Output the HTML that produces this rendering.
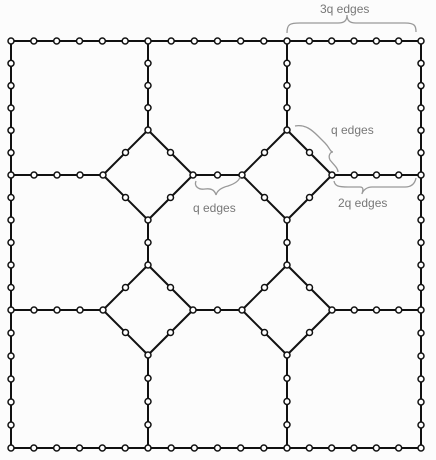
<!DOCTYPE html>
<html><head><meta charset="utf-8"><style>
html,body{margin:0;padding:0;background:#fff;}
svg{display:block;}
text{font-family:"Liberation Sans",sans-serif;font-size:12px;fill:#777;}
</style></head><body>
<svg id="g" width="436" height="460" viewBox="0 0 436 460">
<rect width="436" height="460" fill="#fcfcfc"/>
<g id="edges" stroke="#111" stroke-width="2" fill="none"></g>
<g id="nodes" fill="#fff" stroke="#111" stroke-width="1.5"></g>
<g fill="none" stroke="#999" stroke-width="1.3">
<path d="M287,33 C287,24 290,23 300,23 L338,23 C345,23 347,20 347,15 C347,20 349,23 356,23 L405,23 C415,23 416,26 416,32"/>
<path d="M295,126 C305,124 312,130 318,136 L325,143 C330,148 330,152 333,152 C330,152 328,156 330,160 C334,165 338,168 338,172"/>
<path d="M196,181 C194,186 198,190 205,189 C212,188 215,191 216,195 C217,191 220,188 228,186 C234,184 239,181 240,177"/>
<path d="M334,181 C335,186 338,187 348,187 L360,187 C365,187 362,193 362,194 C363,190 367,187 372,187 L405,187 C412,187 415,183 416,178"/>
</g>
<text x="320" y="13">3q edges</text>
<text x="331" y="134">q edges</text>
<text x="193" y="212">q edges</text>
<text x="338" y="207">2q edges</text>
</svg>
<script>
const cols=[11,148,287,421];
const rows=[41,175,310,448];
const dh=45;
const segs=[];
function add(x1,y1,x2,y2,n,name){segs.push([x1,y1,x2,y2,n,name]);}
for(let i=0;i<3;i++){
  add(cols[i],rows[0],cols[i+1],rows[0],6,'top-edge');
  add(cols[i],rows[3],cols[i+1],rows[3],6,'bottom-edge');
  add(cols[0],rows[i],cols[0],rows[i+1],6,'left-edge');
  add(cols[3],rows[i],cols[3],rows[i+1],6,'right-edge');
}
[rows[1],rows[2]].forEach(y=>{
  add(cols[0],y,cols[1]-dh,y,4,'inner-horizontal');
  add(cols[1]+dh,y,cols[2]-dh,y,2,'inner-horizontal');
  add(cols[2]+dh,y,cols[3],y,4,'inner-horizontal');
});
[cols[1],cols[2]].forEach(x=>{
  add(x,rows[0],x,rows[1]-dh,4,'inner-vertical');
  add(x,rows[1]+dh,x,rows[2]-dh,2,'inner-vertical');
  add(x,rows[2]+dh,x,rows[3],4,'inner-vertical');
});
[rows[1],rows[2]].forEach(cy=>[cols[1],cols[2]].forEach(cx=>{
  add(cx,cy-dh,cx+dh,cy,2,'diamond-side');
  add(cx+dh,cy,cx,cy+dh,2,'diamond-side');
  add(cx,cy+dh,cx-dh,cy,2,'diamond-side');
  add(cx-dh,cy,cx,cy-dh,2,'diamond-side');
}));
const NS='http://www.w3.org/2000/svg';
const eg=document.getElementById('edges'),ng=document.getElementById('nodes');
const seen=new Set();
segs.forEach(s=>{
  const l=document.createElementNS(NS,'line');
  l.setAttribute('x1',s[0]);l.setAttribute('y1',s[1]);l.setAttribute('x2',s[2]);l.setAttribute('y2',s[3]);
  
  
  eg.appendChild(l);
  for(let k=0;k<=s[4];k++){
    const x=s[0]+(s[2]-s[0])*k/s[4],y=s[1]+(s[3]-s[1])*k/s[4];
    const key=Math.round(x)+','+Math.round(y);
    if(seen.has(key))continue;seen.add(key);
    const c=document.createElementNS(NS,'circle');
    c.setAttribute('cx',x);c.setAttribute('cy',y);c.setAttribute('r',3);
    
    
    ng.appendChild(c);
  }
});
</script>
</body></html>
